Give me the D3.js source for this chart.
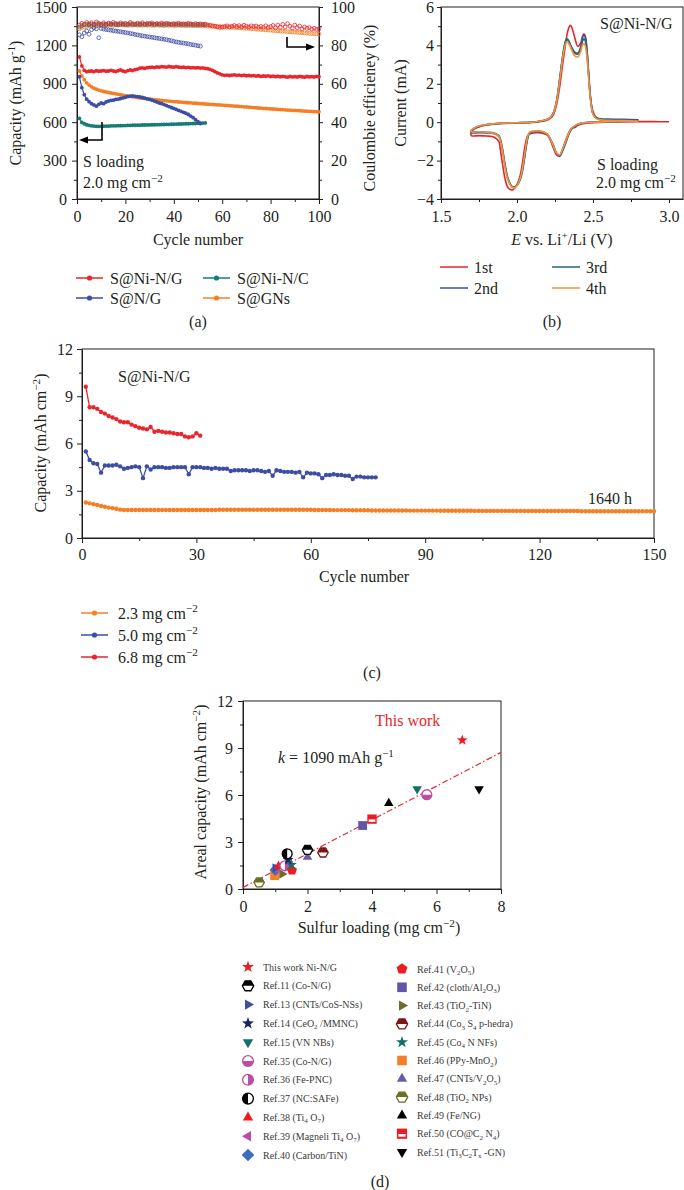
<!DOCTYPE html>
<html><head><meta charset="utf-8">
<script src="https://cdn.jsdelivr.net/npm/d3@7"></script>
<style>
body{margin:0;background:#fff;}
svg{display:block;}
</style></head><body>
<svg id="c" width="684" height="1190"></svg>
<script>
// ================= DATA =================
// Panel (a): rate/cycling at 2.0 mg cm-2, capacity (mAh g-1) and Coulombic efficiency (%) per cycle
const aSeriesNames = ["S@Ni-N/G", "S@N/G", "S@Ni-N/C", "S@GNs"];
const capNiNG = [1110,1040,1005,995,998,1000,995,1002,998,1000,
1003,998,1000,1005,1000,996,1002,1008,1000,995,
1003,1008,1004,1010,1015,1022,1025,1020,1026,1028,
1030,1027,1032,1030,1034,1033,1031,1035,1032,1030,
1034,1031,1028,1030,1026,1029,1025,1027,1024,1026,
1023,1025,1020,1018,1012,1005,995,985,978,970,
966,968,965,967,970,966,968,964,967,963,
965,962,964,960,963,958,961,959,962,957,
960,956,959,955,958,956,952,957,954,956,
953,958,955,952,957,954,956,953,958,955];
const ceNiNG = [90.5,91.5,91,92,91.2,91.8,90.8,92.2,91.5,91,
91.8,90.9,91.6,91.2,92,91.4,90.8,91.7,91.2,91.5,
91,92,91.3,90.9,91.6,91.2,91.8,91,91.5,91.3,
91.7,91,91.4,91.2,91.6,91.1,91.5,91.3,90.9,91.4,
91.2,91.6,91,91.3,91.1,91.5,91.2,90.9,91.3,91,
91.2,90.8,91.1,90.7,90.5,90.2,90,89.6,89.3,89.5,
89.8,90.2,89.6,90.0,90.4,89.8,90.3,89.7,90.5,90.0,
89.6,90.2,89.8,90.1,89.5,89.9,89.4,90.2,89.3,89.8,
90.4,89.2,90.6,89.4,91.0,89.6,91.3,90.0,89.0,90.6,
89.2,90.1,88.6,89.6,88.9,89.3,88.5,88.9,88.3,88.6];
const capNG = [955,870,815,780,760,745,735,725,740,750,
745,758,765,770,772,778,780,785,790,795,
800,803,805,802,800,797,793,788,783,778,
772,765,758,750,745,738,730,722,715,708,
700,692,685,677,670,660,648,635,620,605,590];
const ceNG = [85.5,84.5,86.5,87.5,85.8,88.2,89.2,88.6,84,88.8,
88.5,88.3,88.1,87.9,87.7,87.5,87.3,87.1,86.9,86.7,
86.5,86.2,86,85.7,85.5,85.2,85,84.8,84.6,84.4,
84.2,84,83.8,83.6,83.4,83.2,83,82.7,82.4,82.1,
81.8,81.6,81.4,81.2,81,80.8,80.5,80.3,80.1,79.8,79.6];
const capNiNC = [630,598,588,580,575,572,570,568,567,568,
569,570,570,571,572,572,573,573,574,574,
575,575,576,576,577,577,578,578,579,579,
580,580,581,581,582,582,583,583,584,584,
585,586,586,587,588,588,589,590,590,591,
592,593,594];
const ceNiNC = [89.5,90.3,90.8,91,90.7,91.1,90.9,91.2,91,90.8,
91.1,90.9,91.2,91,91.1,90.9,91.2,91,91.1,90.8,
91,91.2,90.9,91.1,91,90.8,91.1,91,90.9,91.2,
91,90.9,91.1,91,90.8,91.1,90.9,91,91.1,90.9,
91,90.8,91.1,90.9,91,90.8,91,90.9,90.7,91,
90.8,90.9,90.7];
const capGNs = [1000,962,932,908,890,876,866,858,851,845,
840,836,832,828,825,822,818,815,812,808,
805,802,799,796,793,790,788,786,783,781,
779,777,775,773,771,769,767,765,763,761,
760,758,757,755,754,752,751,749,748,746,
745,744,742,741,740,739,737,736,735,734,
732,731,729,728,726,725,723,722,720,719,
717,716,714,713,711,710,708,707,706,704,
703,702,700,699,698,697,695,694,693,692,
691,690,688,687,686,685,684,683,682,681];
const ceGNs = [88.6,89.3,89.6,89.9,90.1,90.2,90.3,90.2,90.4,90.3,
90.5,90.4,90.6,90.5,90.4,90.6,90.5,90.7,90.5,90.6,
90.4,90.6,90.5,90.7,90.5,90.6,90.4,90.6,90.5,90.6,
90.4,90.5,90.6,90.4,90.5,90.3,90.5,90.4,90.5,90.3,
90.4,90.5,90.3,90.4,90.2,90.4,90.3,90.2,90.4,90.2,
90.3,90.1,90.2,90.0,90.1,89.9,90.0,89.8,89.9,89.7,
89.6,89.5,89.5,89.4,89.3,89.3,89.2,89.1,89.0,88.9,
88.8,88.7,88.6,88.5,88.4,88.3,88.2,88.1,88.0,87.9,
87.8,87.7,87.6,87.5,87.4,87.3,87.2,87.1,87.0,86.9,
86.8,86.7,86.6,86.5,86.4,86.3,86.2,86.1,86.0,85.9];

// Panel (b): CV curves, S@Ni-N/G (E in V, I in mA)
const cvNames = ["1st", "2nd", "3rd", "4th"];
const cvCathE = [3.0,2.9,2.8,2.6,2.5,2.45,2.42,2.4,2.38,2.36,2.34,2.32,2.3,2.28,2.26,2.24,2.22,2.2,2.16,2.12,2.1,2.09,2.08,2.07,2.06,2.05,2.04,2.03,2.02,2.0,1.98,1.97,1.96,1.94,1.92,1.91,1.9,1.89,1.88,1.85,1.8,1.75,1.7];
const cvCath1 = [0.02,0.02,0.02,0.0,-0.03,-0.06,-0.1,-0.16,-0.28,-0.3,-0.55,-0.95,-1.4,-1.75,-1.7,-1.35,-0.95,-0.68,-0.56,-0.55,-0.58,-0.6,-0.62,-0.7,-0.95,-1.35,-1.9,-2.4,-2.8,-3.25,-3.48,-3.53,-3.52,-3.4,-2.9,-2.45,-1.95,-1.4,-1.0,-0.78,-0.72,-0.7,-0.7];
const cvCath2 = [null,null,0.08,0.03,0.0,-0.03,-0.07,-0.12,-0.22,-0.35,-0.65,-1.1,-1.5,-1.78,-1.62,-1.25,-0.9,-0.64,-0.5,-0.5,-0.5,-0.52,-0.6,-0.85,-1.3,-1.85,-2.35,-2.75,-3.0,-3.3,-3.4,-3.38,-3.3,-2.95,-2.2,-1.7,-1.25,-0.9,-0.72,-0.6,-0.56,-0.55,-0.55];
const cvCath3 = [null,null,0.06,0.03,0.01,-0.02,-0.05,-0.1,-0.2,-0.33,-0.62,-1.05,-1.45,-1.72,-1.6,-1.22,-0.88,-0.62,-0.48,-0.47,-0.48,-0.5,-0.58,-0.82,-1.25,-1.8,-2.3,-2.7,-2.98,-3.28,-3.38,-3.36,-3.28,-2.92,-2.15,-1.65,-1.2,-0.88,-0.7,-0.56,-0.52,-0.5,-0.5];
const cvCath4 = [null,null,0.05,0.02,0.0,-0.02,-0.05,-0.1,-0.19,-0.3,-0.58,-1.0,-1.4,-1.7,-1.6,-1.25,-0.9,-0.62,-0.47,-0.46,-0.47,-0.49,-0.56,-0.75,-1.15,-1.7,-2.2,-2.65,-2.95,-3.3,-3.42,-3.4,-3.32,-3.0,-2.3,-1.75,-1.3,-0.95,-0.74,-0.58,-0.52,-0.5,-0.5];
const cvAnodE = [1.7,1.72,1.75,1.8,1.85,1.9,2.0,2.1,2.15,2.2,2.22,2.24,2.26,2.28,2.3,2.32,2.33,2.34,2.35,2.36,2.38,2.4,2.42,2.43,2.44,2.45,2.46,2.47,2.48,2.49,2.5,2.52,2.55,2.6,2.7,2.8,2.9,3.0];
const cvAnod1 = [-0.5,-0.35,-0.25,-0.15,-0.1,-0.07,-0.04,-0.01,0.03,0.12,0.2,0.4,0.9,1.8,3.0,4.1,4.6,4.9,5.05,4.95,4.4,3.95,4.15,4.45,4.6,4.45,3.8,2.7,1.6,0.9,0.55,0.25,0.12,0.08,0.05,0.04,0.03,0.02];
const cvAnod2 = [-0.45,-0.32,-0.22,-0.13,-0.09,-0.06,-0.03,0.0,0.05,0.15,0.25,0.5,1.1,2.2,3.4,4.2,4.3,4.2,4.05,3.9,3.65,3.6,3.95,4.35,4.55,4.4,3.75,2.65,1.55,0.85,0.45,0.25,0.18,0.16,0.15,0.12,null,null];
const cvAnod3 = [-0.42,-0.3,-0.2,-0.12,-0.08,-0.05,-0.03,0.0,0.05,0.15,0.25,0.5,1.1,2.2,3.4,4.25,4.35,4.25,4.05,3.85,3.6,3.55,3.85,4.2,4.35,4.2,3.6,2.55,1.5,0.8,0.42,0.22,0.14,0.12,0.1,0.08,null,null];
const cvAnod4 = [-0.42,-0.3,-0.2,-0.12,-0.08,-0.05,-0.03,0.0,0.05,0.15,0.25,0.48,1.05,2.1,3.3,4.1,4.2,4.1,3.95,3.75,3.45,3.4,3.7,4.0,4.1,3.95,3.4,2.45,1.45,0.8,0.42,0.2,0.12,0.1,0.08,0.06,null,null];

// Panel (c): areal capacity (mAh cm-2) per cycle at three sulfur loadings
const cNames = ["2.3 mg cm^{\u22122}", "5.0 mg cm^{\u22122}", "6.8 mg cm^{\u22122}"];
const areal23 = [2.25,2.2,2.15,2.1,2.03,1.98,1.93,1.9,1.86,1.8,
1.78,1.78,1.78,1.78,1.78,1.78,1.78,1.78,1.78,1.78,
1.78,1.78,1.78,1.78,1.78,1.78,1.78,1.78,1.78,1.78,
1.78,1.78,1.78,1.78,1.78,1.79,1.79,1.79,1.79,1.79,
1.79,1.79,1.79,1.79,1.79,1.79,1.79,1.79,1.79,1.79,
1.79,1.79,1.79,1.79,1.79,1.79,1.79,1.79,1.79,1.79,
1.78,1.78,1.78,1.78,1.78,1.77,1.77,1.77,1.77,1.77,
1.76,1.76,1.76,1.76,1.76,1.75,1.75,1.75,1.75,1.75,
1.75,1.75,1.75,1.75,1.75,1.74,1.74,1.74,1.74,1.74,
1.74,1.74,1.74,1.73,1.73,1.73,1.73,1.73,1.73,1.73,
1.73,1.73,1.72,1.72,1.72,1.72,1.72,1.72,1.72,1.72,
1.72,1.72,1.72,1.72,1.72,1.71,1.71,1.71,1.71,1.71,
1.71,1.71,1.71,1.71,1.71,1.71,1.71,1.71,1.71,1.71,
1.7,1.7,1.7,1.7,1.7,1.7,1.7,1.7,1.7,1.7,
1.7,1.7,1.7,1.7,1.7,1.7,1.7,1.7,1.7,1.7];
const areal50 = [5.5,4.95,4.75,4.7,4.15,4.6,4.6,4.6,4.65,4.55,
4.4,4.45,4.5,4.55,4.5,3.8,4.55,4.35,4.5,4.5,
4.5,4.45,4.45,4.5,4.5,4.5,4.5,4.05,4.5,4.5,
4.5,4.45,4.45,4.4,4.45,4.4,4.4,4.4,4.25,4.3,
4.3,4.3,4.3,4.25,4.3,4.3,4.25,4.2,4.25,3.95,
4.3,4.25,4.2,4.2,4.2,4.15,4.2,3.85,4.15,4.1,
4.1,4.05,3.8,4.0,4.0,4.05,4.0,4.0,3.95,3.95,
3.75,3.9,3.9,3.85,3.85,3.85,3.85];
const areal68 = [9.6,8.3,8.3,8.2,8.0,7.9,7.75,7.65,7.55,7.4,
7.35,7.35,7.2,7.1,7.0,6.95,6.9,7.05,6.75,6.8,
6.75,6.7,6.7,6.65,6.6,6.6,6.45,6.4,6.45,6.65,6.5];

// Panel (d): comparison with literature
const refNames = ["This work Ni-N/G","Ref.11 (Co-N/G)","Ref.13 (CNTs/CoS-NSs)","Ref.14 (CeO_{2} /MMNC)","Ref.15 (VN NBs)","Ref.35 (Co-N/G)","Ref.36 (Fe-PNC)","Ref.37 (NC:SAFe)","Ref.38 (Ti_{4} O_{7})","Ref.39 (Magneli Ti_{4} O_{7})","Ref.40 (Carbon/TiN)",
"Ref.41 (V_{2}O_{5})","Ref.42 (cloth/Al_{2}O_{3})","Ref.43 (TiO_{2}-TiN)","Ref.44 (Co_{3} S_{4} p-hedra)","Ref.45 (Co_{4} N NFs)","Ref.46 (PPy-MnO_{2})","Ref.47 (CNTs/V_{2}O_{5})","Ref.48 (TiO_{2} NPs)","Ref.49 (Fe/NG)","Ref.50 (CO@C_{2} N_{4})","Ref.51 (Ti_{3}C_{2}T_{x} -GN)"];
const sulfurLoading = [6.8,2.0,1.0,1.4,5.4,5.7,1.3,1.37,1.1,1.05,1.0, 1.52,3.71,1.21,2.48,1.5,0.98,2.0,0.5,4.52,4.0,7.32];
const arealCapacity = [9.5,2.5,1.34,1.87,6.39,6.02,1.48,2.25,1.45,1.3,1.22, 1.19,4.05,0.96,2.33,1.55,0.85,2.05,0.42,5.48,4.46,6.39];
const fitSlope = 1.09; // k = 1090 mAh g-1
const fitLoading = [0, 8];

// ================= STYLE =================
const INK = "#231f20";
const FONT = '"Liberation Serif","Times New Roman",serif';
const aColors = ["#e8262d", "#3b4ea3", "#157d76", "#f47f24"];
const cvColors = ["#e8242b", "#3c55a5", "#1a6e6a", "#f3913f"];
const cColors = ["#f47f24", "#3b4ea3", "#e8262d"];
const refStyle = [
 ["star","#ec1c24"],["hexTop","#000000"],["triRight","#3f4fa6"],["star","#1f205f"],["triDown","#13716c"],
 ["circBottom","#b94ea8"],["circRight","#b94ea8"],["circLeft","#000000"],["triUp","#ec1c24"],["triLeft","#b94ea8"],["diamond","#3d6cc0"],
 ["pent","#ec1c24"],["square","#6355a6"],["triRight","#6b6e24"],["hexTop","#7a1618"],["star","#13716c"],
 ["square","#f57f29"],["triUp","#6a5aa8"],["hexTop","#6b6e24"],["triUp","#000000"],["squareBar","#ec1c24"],["triDown","#000000"]];
const drawOrder = [18,16,13,10,9,2,8,6,11,15,3,7,17,1,14,12,20,19,4,5,21,0];

const svg = d3.select("#c").attr("font-family", FONT).attr("fill", INK);
svg.append("rect").attr("width", 684).attr("height", 1190).attr("fill", "#fff");

// rich text with ^{sup} and _{sub}
function rich(sel, str, size) {
  const parts = str.split(/(\^\{[^}]*\}|_\{[^}]*\})/).filter(s => s !== "");
  let pending = 0;
  parts.forEach(p => {
    if (p.startsWith("^{")) {
      sel.append("tspan").attr("dy", pending - size * 0.38).attr("font-size", size * 0.7).text(p.slice(2, -1));
      pending = size * 0.38;
    } else if (p.startsWith("_{")) {
      sel.append("tspan").attr("dy", pending + size * 0.25).attr("font-size", size * 0.7).text(p.slice(2, -1));
      pending = -size * 0.25;
    } else {
      sel.append("tspan").attr("dy", pending).text(p);
      pending = 0;
    }
  });
  return sel;
}
function label(x, y, str, size, opts = {}) {
  const t = svg.append("text").attr("x", x).attr("y", y).attr("font-size", size).attr("fill", opts.fill || INK)
    .attr("text-anchor", opts.anchor || "start");
  if (opts.rotate) t.attr("x", null).attr("y", null).attr("transform", `translate(${x},${y}) rotate(${opts.rotate})`);
  return rich(t, str, size);
}
function styleAxis(g) {
  g.attr("font-family", FONT).attr("font-size", 16);
  g.selectAll("path.domain").attr("stroke", INK).attr("stroke-width", 1);
  g.selectAll("line").attr("stroke", INK);
  g.selectAll("text").attr("fill", INK);
}
function axis(gen, tr) {
  const g = svg.append("g").attr("transform", tr).call(gen);
  styleAxis(g);
  return g;
}
function minor(gen, tr) {
  const g = svg.append("g").attr("transform", tr).call(gen.tickFormat(""));
  g.select(".domain").remove();
  g.selectAll("line").attr("stroke", INK);
}
function frame(x, y) {
  const [x0, x1] = x.range(), [y0, y1] = y.range();
  svg.append("rect").attr("x", x0).attr("y", y1).attr("width", x1 - x0).attr("height", y0 - y1)
    .attr("fill", "none").attr("stroke", INK).attr("stroke-width", 1);
}
function legendLine(x0, x1, y, color, dot) {
  svg.append("line").attr("x1", x0).attr("x2", x1).attr("y1", y).attr("y2", y).attr("stroke", color).attr("stroke-width", 1.5);
  if (dot) svg.append("circle").attr("cx", (x0 + x1) / 2).attr("cy", y).attr("r", 2.6).attr("fill", color);
}

// ================= PANEL (a) =================
const aX = d3.scaleLinear().domain([0, 100]).range([77, 319]);
const aY = d3.scaleLinear().domain([0, 1500]).range([199, 7]);
const aE = d3.scaleLinear().domain([0, 100]).range([199, 7]);
axis(d3.axisBottom(aX).tickValues(d3.range(0, 101, 20)).tickSize(5).tickSizeOuter(0).tickPadding(7), "translate(0,199)");
minor(d3.axisBottom(aX).tickValues(d3.range(10, 100, 20)).tickSize(3), "translate(0,199)");
axis(d3.axisLeft(aY).tickValues(d3.range(0, 1501, 300)).tickSize(5).tickSizeOuter(0).tickPadding(5).tickFormat(d3.format("d")), "translate(77,0)");
minor(d3.axisLeft(aY).tickValues(d3.range(150, 1500, 300)).tickSize(3), "translate(77,0)");
axis(d3.axisRight(aE).tickValues(d3.range(0, 101, 20)).tickSize(4).tickSizeOuter(0).tickPadding(8), "translate(319,0)");
minor(d3.axisRight(aE).tickValues(d3.range(10, 100, 20)).tickSize(3), "translate(319,0)");
frame(aX, aY);

const aCap = [capNiNG, capNG, capNiNC, capGNs];
const aCE = [ceNiNG, ceNG, ceNiNC, ceGNs];
const aOrder = [3, 2, 1, 0];
aOrder.forEach(k => {
  const g = svg.append("g");
  g.selectAll("circle").data(aCE[k]).join("circle")
    .attr("cx", (d, i) => aX(i + 1)).attr("cy", d => aE(d)).attr("r", 1.9)
    .attr("fill", "none").attr("stroke", aColors[k]).attr("stroke-width", 0.8);
});
aOrder.forEach(k => {
  const line = d3.line().x((d, i) => aX(i + 1)).y(d => aY(d));
  svg.append("path").attr("d", line(aCap[k])).attr("fill", "none").attr("stroke", aColors[k]).attr("stroke-width", 1.2);
  svg.append("g").selectAll("circle").data(aCap[k]).join("circle")
    .attr("cx", (d, i) => aX(i + 1)).attr("cy", d => aY(d)).attr("r", 1.9).attr("fill", aColors[k]);
});
// axis-pointer arrows
function arrowPath(pts, head) {
  svg.append("path").attr("d", d3.line()(pts)).attr("fill", "none").attr("stroke", "#000").attr("stroke-width", 1.6);
  svg.append("path").attr("d", d3.line()(head) + "Z").attr("fill", "#000");
}
arrowPath([[102, 122], [102, 140], [86, 140]], [[79, 140], [88, 136.5], [88, 143.5]]);
arrowPath([[287, 37], [287, 47], [307, 47]], [[315, 47], [306, 43.5], [306, 50.5]]);
label(83, 167, "S loading", 16);
label(83, 188, "2.0 mg cm^{\u22122}", 16);
label(198, 245, "Cycle number", 16, { anchor: "middle" });
label(21, 103, "Capacity (mAh g^{-1})", 16, { anchor: "middle", rotate: -90 });
label(375, 108, "Coulombie efficieney (%)", 16, { anchor: "middle", rotate: -90 });
// legend (a)
const aLegPos = [[76, 278], [76, 298], [203, 278], [203, 298]];
aLegPos.forEach(([x, y], k) => {
  legendLine(x, x + 27, y, aColors[k], true);
  label(x + 34, y + 5.5, aSeriesNames[k], 16);
});
label(198, 327, "(a)", 16, { anchor: "middle" });

// ================= PANEL (b) =================
const bX = d3.scaleLinear().domain([1.5, 3.092]).range([441, 683]);
const bY = d3.scaleLinear().domain([-4, 6]).range([199, 7]);
axis(d3.axisBottom(bX).tickValues([1.5, 2.0, 2.5, 3.0]).tickSize(4).tickSizeOuter(0).tickPadding(8).tickFormat(d3.format(".1f")), "translate(0,199)");
minor(d3.axisBottom(bX).tickValues([1.75, 2.25, 2.75]).tickSize(3), "translate(0,199)");
axis(d3.axisLeft(bY).tickValues(d3.range(-4, 7, 2)).tickSize(4).tickSizeOuter(0).tickPadding(3), "translate(441,0)");
minor(d3.axisLeft(bY).tickValues(d3.range(-3, 6, 2)).tickSize(3), "translate(441,0)");
frame(bX, bY);
const cvCath = [cvCath1, cvCath2, cvCath3, cvCath4];
const cvAnod = [cvAnod1, cvAnod2, cvAnod3, cvAnod4];
cvCath.forEach((cath, k) => {
  const pts = cvCathE.map((e, i) => [e, cath[i]]).concat(cvAnodE.map((e, i) => [e, cvAnod[k][i]]))
    .filter(p => p[1] !== null);
  const line = d3.line().curve(d3.curveCatmullRom.alpha(0.5)).x(p => bX(p[0])).y(p => bY(p[1]));
  svg.append("path").attr("d", line(pts)).attr("fill", "none").attr("stroke", cvColors[k]).attr("stroke-width", 1.6);
});
label(600, 29, "S@Ni-N/G", 16);
label(597, 170, "S loading", 16);
label(596, 188, "2.0 mg cm^{\u22122}", 16);
label(406, 103, "Current (mA)", 16, { anchor: "middle", rotate: -90 });
{
  const t = svg.append("text").attr("x", 562).attr("y", 245).attr("font-size", 16).attr("text-anchor", "middle");
  t.append("tspan").attr("font-style", "italic").text("E");
  t.append("tspan").text(" vs. Li");
  t.append("tspan").attr("dy", -6).attr("font-size", 11).text("+");
  t.append("tspan").attr("dy", 6).text("/Li (V)");
}
const bLegPos = [[440, 267], [440, 288], [552, 267], [552, 288]];
bLegPos.forEach(([x, y], k) => {
  legendLine(x, x + 28, y, cvColors[k], false);
  label(x + 34, y + 5.5, cvNames[k], 16);
});
label(552, 327, "(b)", 16, { anchor: "middle" });

// ================= PANEL (c) =================
const cX = d3.scaleLinear().domain([0, 150]).range([82, 654]);
const cY = d3.scaleLinear().domain([0, 12]).range([538, 349]);
axis(d3.axisBottom(cX).tickValues(d3.range(0, 151, 30)).tickSize(5).tickSizeOuter(0).tickPadding(6), "translate(0,538)");
minor(d3.axisBottom(cX).tickValues(d3.range(15, 150, 30)).tickSize(3), "translate(0,538)");
axis(d3.axisLeft(cY).tickValues(d3.range(0, 13, 3)).tickSize(5).tickSizeOuter(0).tickPadding(4), "translate(82,0)");
minor(d3.axisLeft(cY).tickValues(d3.range(1.5, 12, 3)).tickSize(3), "translate(82,0)");
frame(cX, cY);
const cSeries = [areal23, areal50, areal68];
cSeries.forEach((arr, k) => {
  const line = d3.line().x((d, i) => cX(i + 1)).y(d => cY(d));
  svg.append("path").attr("d", line(arr)).attr("fill", "none").attr("stroke", cColors[k]).attr("stroke-width", 1.3);
  svg.append("g").selectAll("circle").data(arr).join("circle")
    .attr("cx", (d, i) => cX(i + 1)).attr("cy", d => cY(d)).attr("r", 2.2).attr("fill", cColors[k]);
});
label(118, 382, "S@Ni-N/G", 16);
label(588, 504, "1640 h", 16);
label(364, 582, "Cycle number", 16, { anchor: "middle" });
label(46, 443, "Capacity (mAh cm^{\u22122})", 16, { anchor: "middle", rotate: -90 });
[613, 635, 657].forEach((y, k) => {
  legendLine(81, 108, y, cColors[k], true);
  label(118, y + 5.5, cNames[k], 16);
});
label(372, 678, "(c)", 16, { anchor: "middle" });

// ================= PANEL (d) =================
const dX = d3.scaleLinear().domain([0, 8]).range([243, 501]);
const dY = d3.scaleLinear().domain([0, 12]).range([889, 701]);
axis(d3.axisBottom(dX).tickValues(d3.range(0, 9, 2)).tickSize(5).tickSizeOuter(0).tickPadding(7), "translate(0,889)");
minor(d3.axisBottom(dX).tickValues(d3.range(1, 8, 2)).tickSize(3), "translate(0,889)");
axis(d3.axisLeft(dY).tickValues(d3.range(0, 13, 3)).tickSize(5).tickSizeOuter(0).tickPadding(5), "translate(243,0)");
minor(d3.axisLeft(dY).tickValues(d3.range(1.5, 12, 3)).tickSize(3), "translate(243,0)");
frame(dX, dY);
svg.append("line").attr("x1", dX(fitLoading[0])).attr("y1", dY(fitLoading[0] * fitSlope + 0.1))
  .attr("x2", dX(fitLoading[1])).attr("y2", dY(fitLoading[1] * fitSlope))
  .attr("stroke", "#e8262d").attr("stroke-width", 1.2).attr("stroke-dasharray", "6,2.5,1.5,2.5");

function poly(n, r, rot) {
  return d3.range(n).map(i => { const a = rot + i * 2 * Math.PI / n; return [r * Math.cos(a), r * Math.sin(a)]; });
}
function marker(cx, cy, shape, color, r) {
  const g = svg.append("g").attr("transform", `translate(${cx},${cy})`);
  const P = pts => d3.line()(pts) + "Z";
  switch (shape) {
    case "star": {
      const pts = d3.range(10).map(i => { const rr = i % 2 ? r * 0.42 : r * 1.05; const a = -Math.PI / 2 + i * Math.PI / 5; return [rr * Math.cos(a), rr * Math.sin(a)]; });
      g.append("path").attr("d", P(pts)).attr("fill", color); break;
    }
    case "triUp": g.append("path").attr("d", P(poly(3, r, -Math.PI / 2))).attr("fill", color); break;
    case "triDown": g.append("path").attr("d", P(poly(3, r, Math.PI / 2))).attr("fill", color); break;
    case "triLeft": g.append("path").attr("d", P(poly(3, r, Math.PI))).attr("fill", color); break;
    case "triRight": g.append("path").attr("d", P(poly(3, r, 0))).attr("fill", color); break;
    case "square": g.append("rect").attr("x", -r * 0.8).attr("y", -r * 0.8).attr("width", r * 1.6).attr("height", r * 1.6).attr("fill", color); break;
    case "squareBar":
      g.append("rect").attr("x", -r * 0.85).attr("y", -r * 0.85).attr("width", r * 1.7).attr("height", r * 1.7).attr("fill", color);
      g.append("rect").attr("x", -r * 0.6).attr("y", r * 0.05).attr("width", r * 1.2).attr("height", r * 0.45).attr("fill", "#fff"); break;
    case "diamond": g.append("path").attr("d", P(poly(4, r * 1.05, -Math.PI / 2))).attr("fill", color); break;
    case "pent": g.append("path").attr("d", P(poly(5, r * 0.95, -Math.PI / 2))).attr("fill", color); break;
    case "hexTop": {
      const hx = poly(6, r * 0.95, 0);
      g.append("path").attr("d", P(hx)).attr("fill", "#fff").attr("stroke", color).attr("stroke-width", 1.3);
      g.append("path").attr("d", P([[hx[3][0], 0], hx[4], hx[5], [hx[0][0], 0]])).attr("fill", color);
      g.append("path").attr("d", `M${-r * 0.55},1.5 A${r * 0.55},${r * 0.5} 0 0 0 ${r * 0.55},1.5 Z`).attr("fill", color).attr("opacity", 0);
      break;
    }
    case "circBottom":
      g.append("circle").attr("r", r * 0.9).attr("fill", "#fff").attr("stroke", color).attr("stroke-width", 1.3);
      g.append("path").attr("d", `M${-r * 0.9},0 A${r * 0.9},${r * 0.9} 0 0 0 ${r * 0.9},0 Z`).attr("fill", color); break;
    case "circRight":
      g.append("circle").attr("r", r * 0.9).attr("fill", "#fff").attr("stroke", color).attr("stroke-width", 1.3);
      g.append("path").attr("d", `M0,${-r * 0.9} A${r * 0.9},${r * 0.9} 0 0 1 0,${r * 0.9} Z`).attr("fill", color); break;
    case "circLeft":
      g.append("circle").attr("r", r * 0.9).attr("fill", "#fff").attr("stroke", color).attr("stroke-width", 1.3);
      g.append("path").attr("d", `M0,${-r * 0.9} A${r * 0.9},${r * 0.9} 0 0 0 0,${r * 0.9} Z`).attr("fill", color); break;
  }
}
drawOrder.forEach(i => marker(dX(sulfurLoading[i]), dY(arealCapacity[i]), refStyle[i][0], refStyle[i][1], 5.5));
label(375, 726, "This work", 16, { fill: "#e8262d" });
{
  const t = svg.append("text").attr("x", 278).attr("y", 763).attr("font-size", 16);
  t.append("tspan").attr("font-style", "italic").text("k");
  t.append("tspan").text(" = 1090 mAh g");
  t.append("tspan").attr("dy", -6).attr("font-size", 11).text("\u22121");
}
label(379, 933, "Sulfur loading (mg cm^{\u22122})", 16, { anchor: "middle" });
label(206, 792, "Areal capacity (mAh cm^{\u22122})", 16, { anchor: "middle", rotate: -90 });
// legend (d)
refNames.forEach((name, i) => {
  const col = i < 11 ? 0 : 1;
  const row = col ? i - 11 : i;
  const mx = col ? 402 : 248;
  const y = col ? 969 + row * 18.3 : 967 + row * 18.8;
  marker(mx, y, refStyle[i][0], refStyle[i][1], 6);
  label(mx + 15, y + 3.5, name, 10, { fill: "#3a3a3a" });
});
label(380, 1187, "(d)", 16, { anchor: "middle" });
</script>
</body></html>
